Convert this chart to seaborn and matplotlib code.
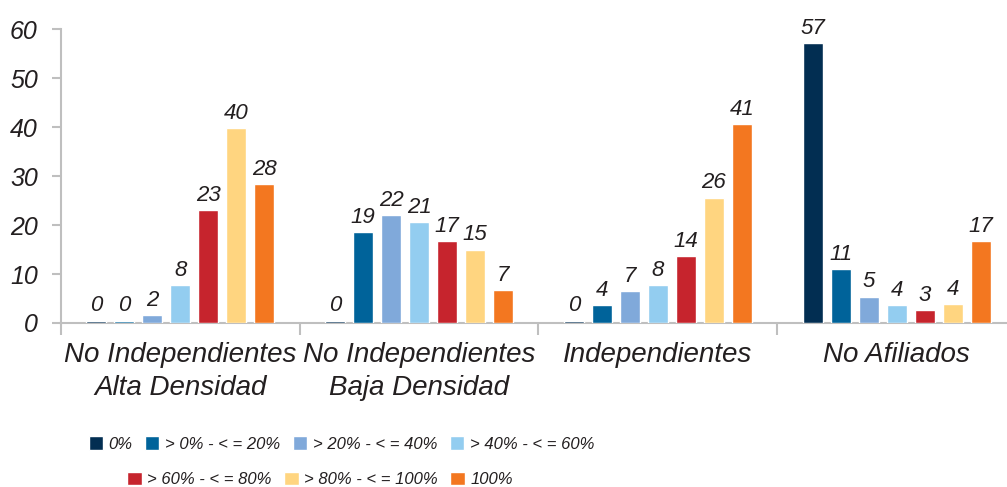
#!/usr/bin/env python3
# Distribucion por grupo de afiliacion: barras agrupadas por rango

import pandas as pd
import seaborn as sns
import matplotlib.pyplot as plt
from matplotlib import font_manager

grupos = ["No Independientes\nAlta Densidad", "No Independientes\nBaja Densidad",
          "Independientes", "No Afiliados"]
rangos = ["0%", "> 0% - < = 20%", "> 20% - < = 40%", "> 40% - < = 60%",
          "> 60% - < = 80%", "> 80% - < = 100%", "100%"]

# alturas (una lista por rango, en el orden de grupos)
r_0 = [0.49, 0.49, 0.49, 57.2]
r_0_20 = [0.49, 18.6, 3.6, 11.0]
r_20_40 = [1.6, 22.0, 6.6, 5.4]
r_40_60 = [7.7, 20.6, 7.7, 3.6]
r_60_80 = [23.0, 16.8, 13.6, 2.6]
r_80_100 = [39.8, 15.0, 25.6, 3.8]
r_100 = [28.3, 6.8, 40.6, 16.8]

colores = ["#022E52", "#00639A", "#80A9DA", "#93CDF0", "#C6242D", "#FFD580", "#F37720"]
TXT = "#231F20"
GRIS = "#BFBFBF"

series = [r_0, r_0_20, r_20_40, r_40_60, r_60_80, r_80_100, r_100]
filas = []
for rango, vals in zip(rangos, series):
    for g, v in zip(grupos, vals):
        filas.append({"grupo": g, "rango": rango, "valor": v})
data = pd.DataFrame(filas)

sns.set_style("white")
plt.rcParams["font.family"] = ["Liberation Sans", "DejaVu Sans"]
plt.rcParams["font.style"] = "italic"

instaladas = {f.name for f in font_manager.fontManager.ttflist}
if "Liberation Sans Narrow" in instaladas:
    leg_font = {"family": "Liberation Sans Narrow", "style": "italic", "size": 14}
else:
    leg_font = {"family": "Liberation Sans", "style": "italic", "size": 12}

fig = plt.figure(figsize=(10.07, 4.87), dpi=100)
ax = fig.add_axes([0.0603, 0.3368, 0.9489, 0.6031])

sns.barplot(data=data, x="grupo", y="valor", hue="rango", order=grupos, hue_order=rangos,
            palette=colores, saturation=1, width=0.82, gap=0.29, errorbar=None, ax=ax)
for p in ax.patches:
    p.set_zorder(3)

handles, labels = ax.get_legend_handles_labels()
ax.legend_.remove()

for cont, vals in zip(ax.containers, series):
    ax.bar_label(cont, labels=[str(round(v)) for v in vals], padding=3,
                 fontsize=16, color=TXT, fontstyle="italic")

ax.set_ylim(0, 60)
ax.set_xlim(-0.5, 3.5)
ax.set_yticks(range(0, 61, 10))
ax.set_xticks(range(len(grupos)))
ax.set_xticklabels(grupos, linespacing=1.35)
ax.set_xticks([-0.5, 0.5, 1.5, 2.5, 3.5], minor=True)
ax.set_xlabel("")
ax.set_ylabel("")

ax.tick_params(axis="y", length=6.5, width=1.5, color=GRIS, pad=10,
               labelsize=18, labelcolor=TXT, left=True)
ax.tick_params(axis="x", which="major", length=0, pad=14, labelsize=20, labelcolor=TXT)
ax.tick_params(axis="x", which="minor", length=8.6, width=1.5, color=GRIS, bottom=True)

for s in ["top", "right"]:
    ax.spines[s].set_visible(False)
for s in ["left", "bottom"]:
    ax.spines[s].set_color(GRIS)
    ax.spines[s].set_linewidth(1.5)

leg_kw = dict(frameon=False, prop=leg_font, handlelength=0.85, handleheight=0.85,
              handletextpad=0.35, columnspacing=0.75, borderpad=0, labelcolor=TXT)
fig.legend(handles[:4], labels[:4], loc="center", bbox_to_anchor=(0.339, 0.088),
           ncol=4, **leg_kw)
fig.legend(handles[4:], labels[4:], loc="center", bbox_to_anchor=(0.318, 0.015),
           ncol=3, **leg_kw)

plt.savefig("out.png", dpi=100)
